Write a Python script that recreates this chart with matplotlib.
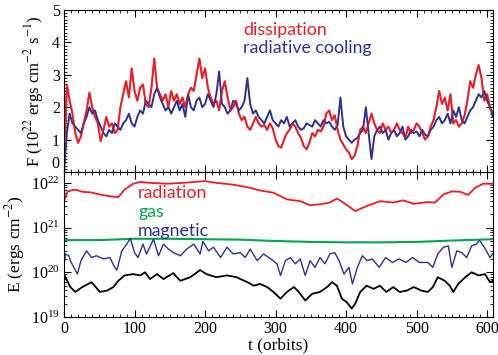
import numpy as np
import matplotlib

matplotlib.use("Agg")
import matplotlib.pyplot as plt
from matplotlib.ticker import MultipleLocator, LogLocator, NullFormatter

# ---- top panel: heating / cooling rate (10^22 ergs cm^-2 s^-1), every 4 orbits
t_flux = list(range(0, 609, 4))
dissipation = [
    0.0, 2.7, 2.2, 1.8, 1.2, 0.9, 1.1, 1.5, 1.9, 2.45, 2.0, 1.7, 1.5, 0.95, 1.3, 1.7,
    1.4, 1.5, 1.2, 1.3, 2.0, 2.4, 2.8, 2.3, 3.2, 2.5, 2.2, 2.6, 2.7, 2.1, 2.0, 2.6,
    3.5, 2.6, 2.4, 2.2, 2.4, 2.0, 2.5, 2.2, 2.4, 2.1, 2.3, 2.0, 2.4, 2.6, 2.5, 3.0,
    3.5, 2.9, 3.2, 2.6, 2.3, 2.1, 2.2, 1.9, 2.5, 2.8, 2.3, 1.9, 2.0, 2.2, 1.8, 1.6,
    1.7, 1.4, 1.3, 1.5, 1.7, 1.5, 1.4, 1.45, 1.3, 1.5, 1.35, 1.0, 0.8, 0.75, 1.0, 1.2,
    1.3, 1.5, 1.4, 1.2, 1.05, 0.8, 0.7, 0.9, 1.2, 1.1, 1.3, 1.25, 1.4, 1.8, 1.9, 1.6,
    1.75, 1.3, 1.0, 0.85, 0.7, 0.6, 0.4, 0.5, 0.8, 1.3, 1.4, 1.2, 1.5, 1.8, 1.5, 1.3,
    1.2, 1.5, 1.3, 1.4, 1.2, 1.3, 1.5, 1.3, 1.2, 1.05, 1.4, 1.2, 1.3, 1.5, 1.4, 1.2,
    1.0, 1.1, 1.4, 1.6, 2.0, 2.5, 2.1, 2.3, 1.9, 2.4, 1.5, 1.6, 1.4, 1.5, 1.75, 2.2,
    2.8, 2.6, 3.0, 3.3, 2.9, 2.2, 2.4, 2.0, 1.8,
]
radiative_cooling = [
    0.0, 1.2, 1.8, 1.5, 1.4, 1.3, 1.2, 1.5, 1.7, 2.0, 1.8, 1.9, 1.6, 1.4, 1.2, 1.1,
    1.3, 1.2, 1.5, 1.4, 1.3, 1.5, 1.6, 1.8, 1.5, 1.4, 1.7, 1.9, 1.8, 2.2, 2.1, 2.0,
    2.4, 2.6, 2.3, 2.1, 1.9, 2.0, 1.8, 2.0, 2.2, 1.9, 2.1, 1.7, 2.4, 2.0, 1.9, 2.2,
    2.3, 2.0, 2.1, 2.4, 2.2, 2.0, 2.4, 3.1, 2.1, 2.0, 1.8, 1.9, 2.2, 2.1, 1.9, 2.0,
    2.2, 2.9, 2.1, 1.8, 1.9, 1.7, 1.6, 1.5, 1.7, 1.9, 1.6, 1.5, 1.4, 1.6, 1.5, 1.7,
    1.4, 1.5, 1.6, 1.4, 1.3, 1.35, 1.5, 1.45, 1.4, 1.6, 1.5, 1.4, 1.6, 1.5, 1.55, 1.4,
    1.3, 1.45, 2.3, 1.4, 1.1, 1.0, 0.9, 1.0, 1.05, 1.2, 1.3, 2.0, 1.2, 0.4, 1.1, 1.3,
    1.4, 1.2, 1.3, 1.0, 1.2, 1.3, 1.1, 1.2, 1.4, 1.0, 1.1, 1.3, 1.2, 1.25, 1.1, 1.3,
    1.15, 1.1, 1.3, 1.4, 1.6, 1.7, 1.5, 1.6, 1.8, 1.5, 1.9, 1.7, 2.0, 1.6, 1.5, 1.7,
    1.9, 2.0, 2.2, 2.4, 2.3, 2.5, 2.2, 2.0, 1.7,
]

# ---- bottom panel: energies, log10(E / ergs cm^-2)
t_rad = [0, 5, 16, 26, 37, 51, 65, 77, 86, 98, 108, 122, 146, 169, 200, 216, 240,
         264, 278, 297, 316, 335, 349, 363, 377, 387, 396, 413, 429, 448, 467, 481,
         496, 515, 526, 538, 550, 562, 573, 583, 594, 608]
log_radiation = [21.58, 21.81, 21.85, 21.80, 21.79, 21.74, 21.70, 21.68, 21.85, 21.98,
                 22.02, 22.00, 21.98, 22.00, 22.04, 22.00, 21.96, 21.89, 21.83, 21.78,
                 21.63, 21.59, 21.50, 21.52, 21.56, 21.65, 21.56, 21.37, 21.48, 21.59,
                 21.56, 21.61, 21.53, 21.57, 21.56, 21.74, 21.81, 21.80, 21.73, 21.89,
                 21.98, 21.98]

t_gas = [0, 50, 100, 150, 200, 250, 300, 350, 400, 450, 500, 550, 608]
log_gas = [20.72, 20.72, 20.75, 20.75, 20.74, 20.73, 20.70, 20.68, 20.67, 20.67,
           20.68, 20.71, 20.74]

t_mag = [0, 2, 7, 9, 14, 19, 24, 32, 39, 46, 56, 65, 72, 75, 82, 89, 94, 100, 105,
         112, 117, 127, 134, 141, 148, 155, 165, 174, 184, 193, 197, 205, 212, 222,
         231, 240, 250, 257, 264, 274, 283, 293, 302, 307, 314, 321, 328, 335, 342,
         349, 356, 363, 370, 377, 384, 390, 397, 404, 409, 416, 423, 430, 437, 447,
         456, 466, 475, 485, 494, 504, 516, 523, 530, 538, 545, 550, 557, 564, 571,
         578, 585, 589, 596, 604, 608]
log_magnetic = [20.11, 20.41, 20.37, 20.26, 20.11, 19.96, 20.26, 20.48, 20.33, 20.37,
                20.30, 20.33, 20.11, 20.05, 20.48, 20.63, 20.76, 20.44, 20.33, 20.63,
                20.41, 20.74, 20.37, 20.63, 20.52, 20.44, 20.37, 20.52, 20.63, 20.41,
                20.69, 20.48, 20.56, 20.33, 20.56, 20.41, 20.44, 20.33, 20.52, 20.26,
                20.41, 20.30, 20.19, 19.93, 20.26, 20.33, 20.19, 20.30, 19.93, 20.26,
                20.11, 20.33, 20.19, 20.41, 20.44, 20.26, 19.96, 20.11, 19.74, 20.11,
                20.37, 20.26, 20.30, 20.11, 20.33, 20.22, 20.30, 20.22, 20.33, 20.22,
                20.22, 20.11, 20.41, 20.56, 20.59, 20.11, 20.48, 20.44, 20.33, 20.59,
                20.63, 20.72, 20.56, 20.33, 20.41]

t_kin = [0, 2, 9, 16, 26, 39, 51, 61, 70, 77, 86, 98, 108, 115, 122, 132, 141, 155,
         165, 179, 193, 202, 216, 231, 245, 250, 260, 269, 278, 288, 297, 307, 316,
         326, 333, 342, 352, 363, 373, 380, 387, 394, 401, 408, 413, 420, 429, 439,
         448, 457, 467, 476, 486, 496, 507, 516, 523, 530, 540, 547, 552, 559, 569,
         578, 588, 597, 604, 608]
log_kinetic = [19.96, 19.89, 19.67, 19.56, 19.67, 19.78, 19.56, 19.59, 19.67, 19.81,
               19.93, 19.96, 19.93, 20.00, 19.85, 19.96, 19.85, 19.98, 19.81, 19.89,
               20.05, 19.96, 19.89, 19.93, 19.89, 19.85, 19.78, 19.70, 19.74, 19.67,
               19.56, 19.41, 19.56, 19.67, 19.56, 19.37, 19.52, 19.56, 19.67, 19.78,
               19.70, 19.41, 19.33, 19.19, 19.30, 19.56, 19.70, 19.63, 19.70, 19.56,
               19.67, 19.56, 19.59, 19.67, 19.59, 19.56, 19.67, 19.89, 19.81, 19.70,
               19.56, 19.74, 19.89, 20.00, 19.93, 19.96, 19.78, 19.81]

RED = "#ed1c24"
BLUE = "#2e3192"
GREEN = "#00a651"

plt.rcParams["font.family"] = "Liberation Serif"
plt.rcParams["mathtext.fontset"] = "stix"
plt.rcParams["font.size"] = 11.5

fig = plt.figure(figsize=(4.98, 3.55), dpi=100)
ax1 = fig.add_axes([0.1285, 0.5155, 0.861, 0.4565])
ax2 = fig.add_axes([0.1285, 0.107, 0.861, 0.4085], sharex=ax1)

ax1.plot(t_flux, dissipation, color=RED, lw=1.4)
ax1.plot(t_flux, radiative_cooling, color=BLUE, lw=1.4)
ax1.plot(t_flux, dissipation, color=RED, lw=1.2, alpha=0.6)

ax2.semilogy(t_rad, 10 ** np.array(log_radiation), color=RED, lw=1.3)
ax2.semilogy(t_gas, 10 ** np.array(log_gas), color=GREEN, lw=1.5)
ax2.semilogy(t_mag, 10 ** np.array(log_magnetic), color=BLUE, lw=1.0)
ax2.semilogy(t_kin, 10 ** np.array(log_kinetic), color="black", lw=1.3)

ax1.set_xlim(0, 608)
ax1.set_ylim(0, 5)
ax2.set_ylim(1e19, 1.75e22)

sans = "Lato"
ax1.text(254, 4.38, "dissipation", color=RED, fontsize=12.8, family=sans, va="center")
ax1.text(254, 3.82, "radiative cooling", color=BLUE, fontsize=12.8, family=sans, va="center")
ax2.text(105, 6.0e21, "radiation", color=RED, fontsize=12.8, family=sans, va="center")
ax2.text(105, 2.2e21, "gas", color=GREEN, fontsize=12.8, family=sans, va="center")
ax2.text(105, 8.6e20, "magnetic", color=BLUE, fontsize=12.8, family=sans, va="center")

ax1.set_ylabel(r"F (10$^{22}$ ergs cm$^{-2}$ s$^{-1}$)", fontsize=12, labelpad=4)
ax2.set_ylabel(r"E (ergs cm$^{-2}$)", fontsize=12.5, labelpad=3)
ax2.set_xlabel("t (orbits)", fontsize=12.5, labelpad=0)

for ax in (ax1, ax2):
    ax.tick_params(which="both", direction="in", top=True, right=True)
    ax.tick_params(which="major", length=5, width=0.8, pad=3)
    ax.tick_params(which="minor", length=2.5, width=0.6)
    ax.xaxis.set_major_locator(MultipleLocator(100))
    ax.xaxis.set_minor_locator(MultipleLocator(10))
ax1.yaxis.set_major_locator(MultipleLocator(1))
ax1.yaxis.set_minor_locator(MultipleLocator(0.1))
ax1.tick_params(labelbottom=False)
ax2.yaxis.set_major_locator(LogLocator(base=10, numticks=10))
ax2.yaxis.set_minor_locator(LogLocator(base=10, subs=np.arange(2, 10), numticks=10))
ax2.yaxis.set_minor_formatter(NullFormatter())

# lift the "0" of the upper panel a little so it clears the 10^22 below it
fig.canvas.draw()
for lab in ax1.get_yticklabels():
    if lab.get_text() == "0":
        lab.set_verticalalignment("bottom")

fig.savefig("out.png", dpi=100)
